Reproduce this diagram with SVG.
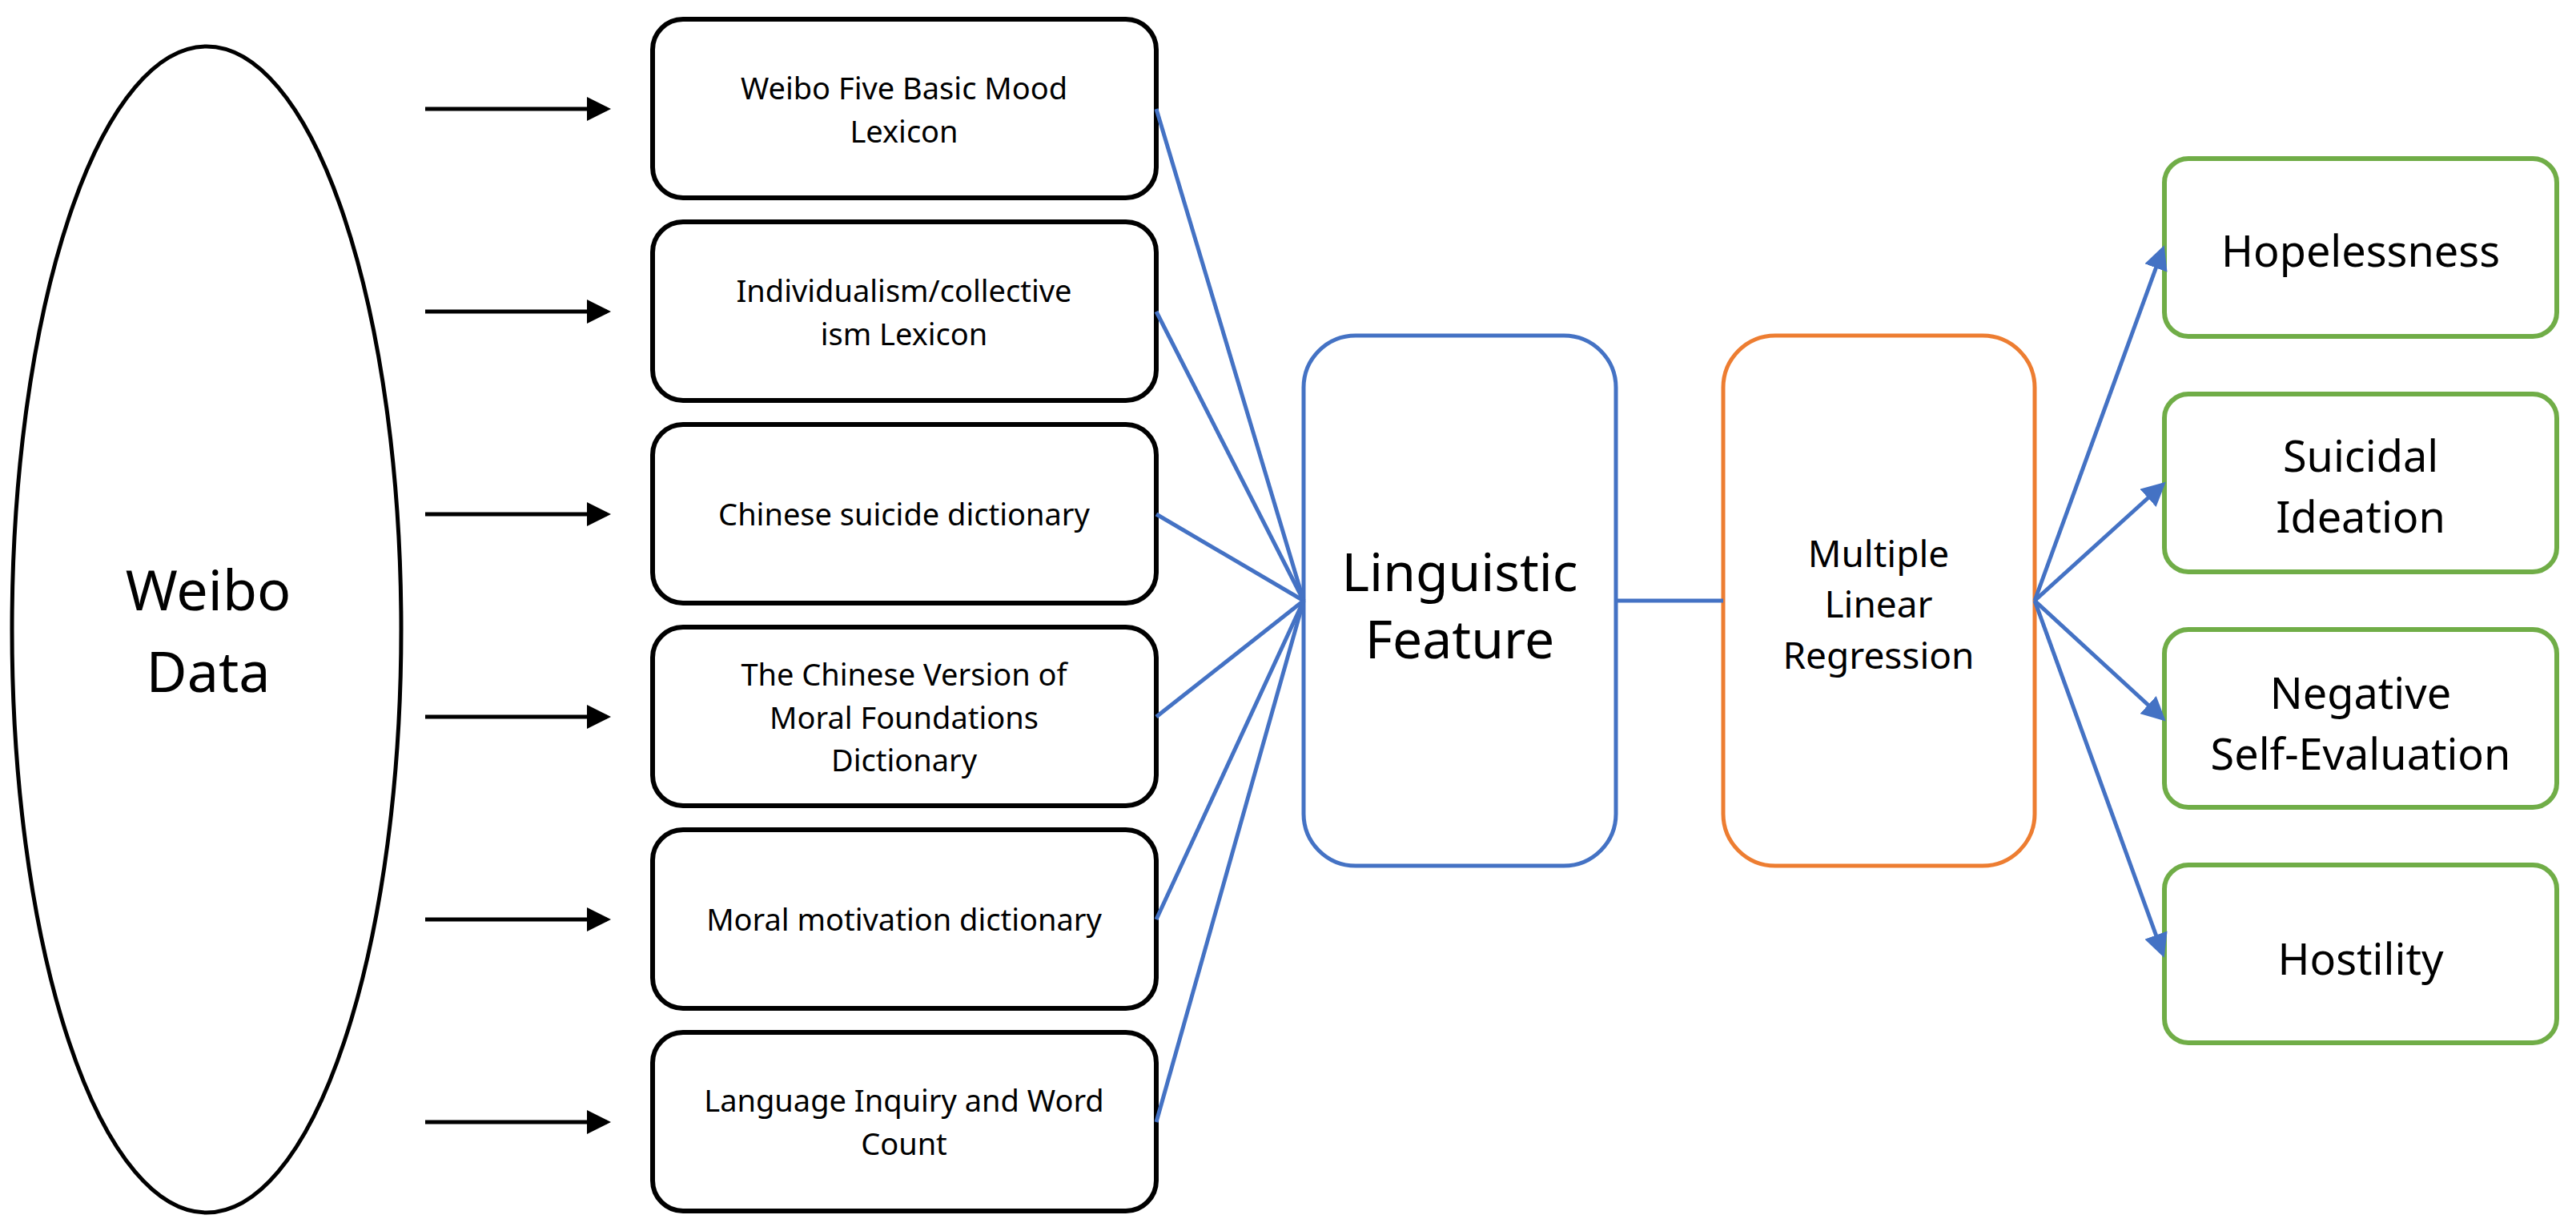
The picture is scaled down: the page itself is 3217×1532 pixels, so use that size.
<svg xmlns="http://www.w3.org/2000/svg" width="3217" height="1532" viewBox="0 0 3217 1532">
<defs>
<marker id="ak" markerWidth="6" markerHeight="6" refX="5" refY="3" orient="auto" markerUnits="strokeWidth"><path d="M0,0 L6,3 L0,6 z" fill="#000"/></marker>
<marker id="ab" markerWidth="6" markerHeight="6" refX="5" refY="3" orient="auto" markerUnits="strokeWidth"><path d="M0,0 L6,3 L0,6 z" fill="#4472C4"/></marker>
<style>
text{font-family:"Noto Sans","Open Sans","DejaVu Sans",sans-serif;text-anchor:middle;dominant-baseline:central;fill:#000}
.src rect{fill:#fff;stroke:#000;stroke-width:6}
.src text{font-size:38px}
.out rect{fill:#fff;stroke:#70AD47;stroke-width:6}
.out text{font-size:54px}
.k{stroke:#000;stroke-width:5;marker-end:url(#ak)}
.b{stroke:#4472C4;stroke-width:5;fill:none}
.ba{stroke:#4472C4;stroke-width:5;marker-end:url(#ab)}
</style>
</defs>
<g id="weibo-data"><ellipse cx="258" cy="786" rx="243" ry="728" fill="#fff" stroke="#000" stroke-width="5"/><text x="260" y="735" font-size="70">Weibo</text><text x="260" y="837" font-size="70">Data</text></g>
<g id="n1" class="src"><rect x="815" y="24" width="629" height="223" rx="38"/><text x="1129" y="109">Weibo Five Basic Mood</text><text x="1129" y="163">Lexicon</text></g>
<g id="n2" class="src"><rect x="815" y="277" width="629" height="223" rx="38"/><text x="1129" y="362">Individualism/collective</text><text x="1129" y="416">ism Lexicon</text></g>
<g id="n3" class="src"><rect x="815" y="530" width="629" height="223" rx="38"/><text x="1129" y="641">Chinese suicide dictionary</text></g>
<g id="n4" class="src"><rect x="815" y="783" width="629" height="223" rx="38"/><text x="1129" y="841">The Chinese Version of</text><text x="1129" y="895">Moral Foundations</text><text x="1129" y="948">Dictionary</text></g>
<g id="n5" class="src"><rect x="815" y="1036" width="629" height="223" rx="38"/><text x="1129" y="1147">Moral motivation dictionary</text></g>
<g id="n6" class="src"><rect x="815" y="1289" width="629" height="223" rx="38"/><text x="1129" y="1373">Language Inquiry and Word</text><text x="1129" y="1427">Count</text></g>
<g id="linguistic"><rect x="1628" y="419" width="390" height="662" rx="65" fill="#fff" stroke="#4472C4" stroke-width="5"/><text x="1823" y="712" font-size="66">Linguistic</text><text x="1823" y="796" font-size="66">Feature</text></g>
<g id="mlr"><rect x="2152" y="419" width="389" height="662" rx="65" fill="#fff" stroke="#ED7D31" stroke-width="5"/><text x="2346" y="690" font-size="46">Multiple</text><text x="2346" y="753" font-size="46">Linear</text><text x="2346" y="817" font-size="46">Regression</text></g>
<g id="o1" class="out"><rect x="2703" y="198" width="490" height="222" rx="30"/><text x="2948" y="312">Hopelessness</text></g>
<g id="o2" class="out"><rect x="2703" y="492" width="490" height="222" rx="30"/><text x="2948" y="568">Suicidal</text><text x="2948" y="644">Ideation</text></g>
<g id="o3" class="out"><rect x="2703" y="786" width="490" height="222" rx="30"/><text x="2948" y="864">Negative</text><text x="2948" y="940">Self-Evaluation</text></g>
<g id="o4" class="out"><rect x="2703" y="1080" width="490" height="222" rx="30"/><text x="2948" y="1196">Hostility</text></g>
<g id="connectors">
<line class="k" x1="531" y1="136" x2="758" y2="136"/>
<line class="k" x1="531" y1="389" x2="758" y2="389"/>
<line class="k" x1="531" y1="642" x2="758" y2="642"/>
<line class="k" x1="531" y1="895" x2="758" y2="895"/>
<line class="k" x1="531" y1="1148" x2="758" y2="1148"/>
<line class="k" x1="531" y1="1401" x2="758" y2="1401"/>
<line class="b" x1="1444" y1="136" x2="1628" y2="750"/>
<line class="b" x1="1444" y1="389" x2="1628" y2="750"/>
<line class="b" x1="1444" y1="642" x2="1628" y2="750"/>
<line class="b" x1="1444" y1="895" x2="1628" y2="750"/>
<line class="b" x1="1444" y1="1148" x2="1628" y2="750"/>
<line class="b" x1="1444" y1="1401" x2="1628" y2="750"/>
<line class="b" x1="2018" y1="750" x2="2152" y2="750"/>
<line class="ba" x1="2541" y1="750" x2="2701" y2="311"/>
<line class="ba" x1="2541" y1="750" x2="2701" y2="605"/>
<line class="ba" x1="2541" y1="750" x2="2701" y2="897"/>
<line class="ba" x1="2541" y1="750" x2="2701" y2="1191"/>
</g>
</svg>
